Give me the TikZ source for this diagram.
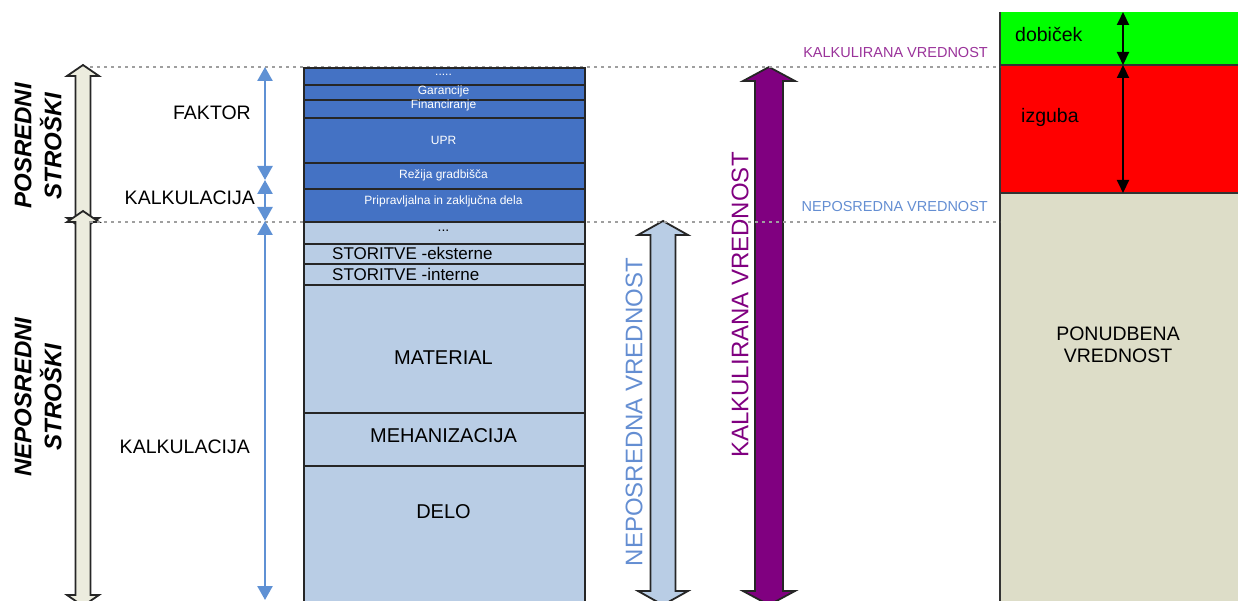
\documentclass[tikz,border=0pt]{standalone}
\usepackage{fontspec}
\setmainfont{Liberation Sans}
\usetikzlibrary{arrows.meta,positioning,calc}

\definecolor{faktorblue}{RGB}{68,114,196}
\definecolor{direktblue}{RGB}{185,205,229}
\definecolor{linkblue}{RGB}{95,145,212}
\definecolor{textblue}{RGB}{100,142,210}
\definecolor{kalkpurple}{RGB}{128,0,128}
\definecolor{ponudbeige}{RGB}{221,221,200}
\definecolor{arrowgrey}{RGB}{236,236,222}

\begin{document}
\begin{tikzpicture}[x=1pt,y=-1pt,
  rowbox/.style={draw=black!85, line width=1.8pt, minimum width=281, inner sep=0pt, anchor=north west},
  fatarrow/.style={draw=black!85, line width=1.8pt, line join=miter},
  guide/.style={gray!75, line width=1.4pt, dash pattern=on 3pt off 4pt},
  costspan/.style={linkblue, line width=2.5pt, {Triangle[length=14pt,width=15pt]}-{Triangle[length=14pt,width=15pt]}},
  marginspan/.style={black, line width=2pt, {Triangle[length=13pt,width=12pt]}-{Triangle[length=13pt,width=12pt]}},
  lbl/.style={font=\fontsize{19.5}{22}\selectfont, inner sep=0pt},
  bigvert/.style={rotate=90, font=\fontsize{24}{28}\selectfont, inner sep=0pt},
  sidehead/.style={rotate=90, align=center, font=\bfseries\itshape\fontsize{24}{30}\selectfont, inner sep=0pt},
  valbox/.style={anchor=north west, minimum width=240, inner sep=0pt}]
\useasboundingbox (0,0) rectangle (1238,601);

% vrednost na desni
\node[valbox, fill=green, minimum height=53] (dob) at (1000,12) {};
\node[valbox, fill=red, minimum height=128] (izg) at (1000,65) {};
\node[valbox, fill=ponudbeige, minimum height=420] (pon) at (1000,193) {};
\draw[black!80, line width=1.8pt] (dob.north west) -- (pon.south west);
\draw[black!80, line width=1.8pt] (dob.south west) -- (dob.south east);
\draw[black!80, line width=1.8pt] (izg.south west) -- (izg.south east);
\node[lbl, anchor=west] (dobicek) at (1015,35) {dobiček};
\node[lbl, anchor=west] (izguba) at (1021,117) {izguba};
\node[lbl, align=center] (ponudba) at (1118,345) {PONUDBENA\\VREDNOST};
\coordinate (dTop) at (1123,12);
\coordinate (dMid) at (1123,65);
\coordinate (dBot) at (1123,193);
\draw[marginspan] (dTop) -- (dMid);
\draw[marginspan] (dMid) -- (dBot);

% debele puscice
\foreach \x/\t/\b/\sw/\hw/\hl/\c in {83/65/229/7.5/16/11/arrowgrey,83/211/606/7.5/16/11/arrowgrey,663/221/605/12.5/25/14/direktblue,769/67/605/14/26/14/kalkpurple} {
  \draw[fatarrow, fill=\c] ({\x-\sw},{\t+\hl}) -- ({\x-\hw},{\t+\hl}) -- (\x,\t) -- ({\x+\hw},{\t+\hl}) -- ({\x+\sw},{\t+\hl})
    -- ({\x+\sw},{\b-\hl}) -- ({\x+\hw},{\b-\hl}) -- (\x,\b) -- ({\x-\hw},{\b-\hl}) -- ({\x-\sw},{\b-\hl}) -- cycle;
}

\coordinate (kvLine) at (90,67);
\coordinate (kvEnd) at (1000,67);
\coordinate (nvLine) at (90,222);
\coordinate (nvEnd) at (1000,222);
\draw[guide] (kvLine) -- (kvEnd);
\draw[guide] (nvLine) -- (nvEnd);

% stolpec
\foreach \n/\top/\h/\ty/\txt in {1/67/17/75/{.....},2/84/15/91/Garancije,3/99/18/105/Financiranje,4/117/45/140/UPR,5/162/26/175/{Režija gradbišča},6/188/33/201/{Pripravljalna in zaključna dela}} {
  \node[rowbox, fill=faktorblue, minimum height=\h] (r\n) at (303,\top) {};
  \node[white, font=\fontsize{12}{13}\selectfont, inner sep=0pt] (t\n) at (443.5,\ty) {\txt};
}
\foreach \n/\top/\h/\ty/\tx/\a/\s/\txt in {7/221/22/231/443.5/center/14/{...},8/243/20/253/332/west/17/{STORITVE -eksterne},9/263/21/274/332/west/17/{STORITVE -interne},10/284/128/358/443.5/center/20/MATERIAL,11/412/53/436/443.5/center/20/MEHANIZACIJA,12/465/150/512/443.5/center/20/DELO} {
  \node[rowbox, fill=direktblue, minimum height=\h] (r\n) at (303,\top) {};
  \node[font=\fontsize{\s}{\s}\selectfont, inner sep=0pt, anchor=\a] (t\n) at (\tx,\ty) {\txt};
}

% levo
\node[sidehead] (posredni) at (38,146) {POSREDNI\\STROŠKI};
\node[sidehead] (neposredni) at (38,397) {NEPOSREDNI\\STROŠKI};
\coordinate (fTop) at (265,67);
\coordinate (fMid) at (265,180);
\coordinate (fBot) at (265,221);
\coordinate (nBot) at (265,600);
\draw[costspan] (fTop) -- (fMid);
\draw[costspan] (fMid) -- (fBot);
\draw[costspan] (fBot) -- (nBot);
\node[lbl, anchor=east] (faktor) at (251,113) {FAKTOR};
\node[lbl, anchor=east] (kalkA) at (255,198) {KALKULACIJA};
\node[lbl, anchor=east] (kalkB) at (250,447) {KALKULACIJA};

% napisi vrednosti
\node[bigvert, textblue] (nvLbl) at (634,412) {NEPOSREDNA VREDNOST};
\node[bigvert, kalkpurple] (kvLbl) at (740,305) {KALKULIRANA VREDNOST};
\node[font=\fontsize{14.5}{16}\selectfont, kalkpurple!80, inner sep=0pt, anchor=east] (kvSmall) at (988,53) {KALKULIRANA VREDNOST};
\node[font=\fontsize{14.5}{16}\selectfont, textblue, inner sep=0pt, anchor=east] (nvSmall) at (988,207) {NEPOSREDNA VREDNOST};
\end{tikzpicture}
\end{document}
